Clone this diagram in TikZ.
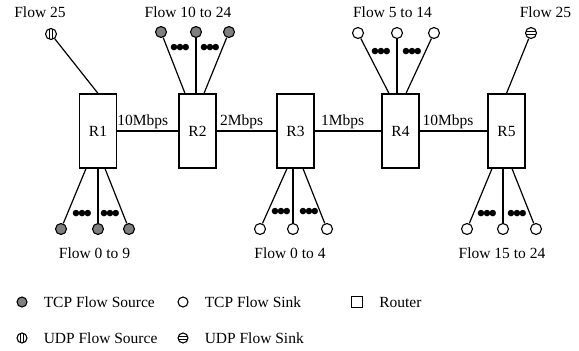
\documentclass[tikz,border=0pt]{standalone}
\usepackage{fontspec}
\setmainfont{Liberation Serif}
\usetikzlibrary{positioning, calc}
\definecolor{srcgray}{HTML}{7F7F7F}
\tikzset{
  router/.style={draw, line width=1.2pt, minimum width=37pt, minimum height=74pt, inner sep=0pt},
  tcpsrc/.style={circle, draw, line width=1.1pt, fill=srcgray, minimum size=11pt, inner sep=0pt},
  tcpsink/.style={circle, draw, line width=1.1pt, fill=white, minimum size=11pt, inner sep=0pt},
  udpsrc/.style={tcpsink, path picture={
      \draw[line width=1pt] ([xshift=-1.6pt]path picture bounding box.north) -- ([xshift=-1.6pt]path picture bounding box.south);
      \draw[line width=1pt] ([xshift=1.6pt]path picture bounding box.north) -- ([xshift=1.6pt]path picture bounding box.south);}},
  udpsink/.style={tcpsink, path picture={
      \draw[line width=1pt] ([yshift=-1.3pt]path picture bounding box.west) -- ([yshift=-1.3pt]path picture bounding box.east);
      \draw[line width=1pt] ([yshift=1.3pt]path picture bounding box.west) -- ([yshift=1.3pt]path picture bounding box.east);}},
  link/.style={line width=1.2pt},
  rate/.style={above, pos=0.42, inner sep=2pt},
  dots/.style={inner sep=0pt, font=\fontsize{27}{27}\selectfont},
  flowlbl/.style={inner sep=0pt},
  keytxt/.style={inner sep=0pt, right=16pt of #1},
  keybox/.style={draw, line width=1.1pt, minimum size=11pt, inner sep=0pt},
}
\newcommand{\tightdots}{•\kern-3.6pt•\kern-3.6pt•}

\begin{document}
\begin{tikzpicture}[x=1pt, y=-1pt, font=\fontsize{15.5}{18}\selectfont]
  \useasboundingbox (0,0) rectangle (579,351);

  % routers
  \node[router] (r1) at (98,131) {R1};
  \node[router] (r2) at (197.5,131) {R2};
  \node[router] (r3) at (295.5,131) {R3};
  \node[router] (r4) at (400.5,131) {R4};
  \node[router] (r5) at (506.5,131) {R5};

  % backbone links
  \draw[link] (r1) -- node[rate]{10Mbps} (r2);
  \draw[link] (r2) -- node[rate]{2Mbps} (r3);
  \draw[link] (r3) -- node[rate]{1Mbps} (r4);
  \draw[link] (r4) -- node[rate]{10Mbps} (r5);

  % R1: UDP source on top, TCP sources below
  \node[udpsrc] (u1) at (51,34) {};
  \node[tcpsrc] (s1a) at (61,229) {};
  \node[tcpsrc] (s1b) at (98,229) {};
  \node[tcpsrc] (s1c) at (129,229) {};
  \draw[link] (u1) -- (r1.north);
  \draw[link] (s1a) -- ($(s1b |- r1.south)+(-12,0)$);
  \draw[link] (s1b) -- (s1b |- r1.south);
  \draw[link] (s1c) -- ($(s1b |- r1.south)+(7,0)$);
  \node[dots] (d1a) at (82,216) {\tightdots};
  \node[dots] (d1b) at (110,216) {\tightdots};

  % R2: TCP sources on top
  \node[tcpsrc] (s2a) at (161,32) {};
  \node[tcpsrc] (s2b) at (196,32) {};
  \node[tcpsrc] (s2c) at (229,32) {};
  \draw[link] (s2a) -- ($(s2b |- r2.north)+(-11,0)$);
  \draw[link] (s2b) -- (s2b |- r2.north);
  \draw[link] (s2c) -- ($(s2b |- r2.north)+(8,0)$);
  \node[dots] (d2a) at (180,50) {\tightdots};
  \node[dots] (d2b) at (210,50) {\tightdots};

  % R3: TCP sinks below
  \node[tcpsink] (k3a) at (260,229) {};
  \node[tcpsink] (k3b) at (293,229) {};
  \node[tcpsink] (k3c) at (327,229) {};
  \draw[link] (k3a) -- ($(k3b |- r3.south)+(-6,0)$);
  \draw[link] (k3b) -- (k3b |- r3.south);
  \draw[link] (k3c) -- ($(k3b |- r3.south)+(10,0)$);
  \node[dots] (d3a) at (281,214) {\tightdots};
  \node[dots] (d3b) at (309,214) {\tightdots};

  % R4: TCP sinks on top
  \node[tcpsink] (k4a) at (358,33) {};
  \node[tcpsink] (k4b) at (397,33) {};
  \node[tcpsink] (k4c) at (434,33) {};
  \draw[link] (k4a) -- ($(k4b |- r4.north)+(-8,0)$);
  \draw[link] (k4b) -- (k4b |- r4.north);
  \draw[link] (k4c) -- ($(k4b |- r4.north)+(9,0)$);
  \node[dots] (d4a) at (381,54) {\tightdots};
  \node[dots] (d4b) at (412,54) {\tightdots};

  % R5: UDP sink on top, TCP sinks below
  \node[udpsink] (u5) at (531,33) {};
  \node[tcpsink] (k5a) at (467,229) {};
  \node[tcpsink] (k5b) at (503,229) {};
  \node[tcpsink] (k5c) at (536,229) {};
  \draw[link] (u5) -- (r5.north);
  \draw[link] (k5a) -- ($(k5b |- r5.south)+(-11,0)$);
  \draw[link] (k5b) -- (k5b |- r5.south);
  \draw[link] (k5c) -- ($(k5b |- r5.south)+(9,0)$);
  \node[dots] (d5a) at (487,216) {\tightdots};
  \node[dots] (d5b) at (517,216) {\tightdots};

  % flow labels
  \node[flowlbl] (f1t) at (40,12) {Flow 25};
  \node[flowlbl] (f2t) at (188,12) {Flow 10 to 24};
  \node[flowlbl] (f4t) at (392.5,12) {Flow 5 to 14};
  \node[flowlbl] (f5t) at (545.5,12) {Flow 25};
  \node[flowlbl] (f1b) at (94.5,253) {Flow 0 to 9};
  \node[flowlbl] (f3b) at (290,253) {Flow 0 to 4};
  \node[flowlbl] (f5b) at (502,253) {Flow 15 to 24};

  % legend
  \node[tcpsrc, minimum size=10pt] (ktcpsrc) at (22,302) {};
  \node[keytxt=ktcpsrc] (ltcpsrc) {TCP Flow Source};
  \node[tcpsink, minimum size=10pt] (ktcpsink) at (183,302) {};
  \node[keytxt=ktcpsink] (ltcpsink) {TCP Flow Sink};
  \node[keybox] (krouter) at (357,302) {};
  \node[keytxt=krouter] (lrouter) {Router};
  \node[udpsrc, minimum size=10pt] (kudpsrc) at (22,338) {};
  \node[keytxt=kudpsrc] (ludpsrc) {UDP Flow Source};
  \node[udpsink, minimum size=10pt] (kudpsink) at (183,338) {};
  \node[keytxt=kudpsink] (ludpsink) {UDP Flow Sink};
\end{tikzpicture}
\end{document}
